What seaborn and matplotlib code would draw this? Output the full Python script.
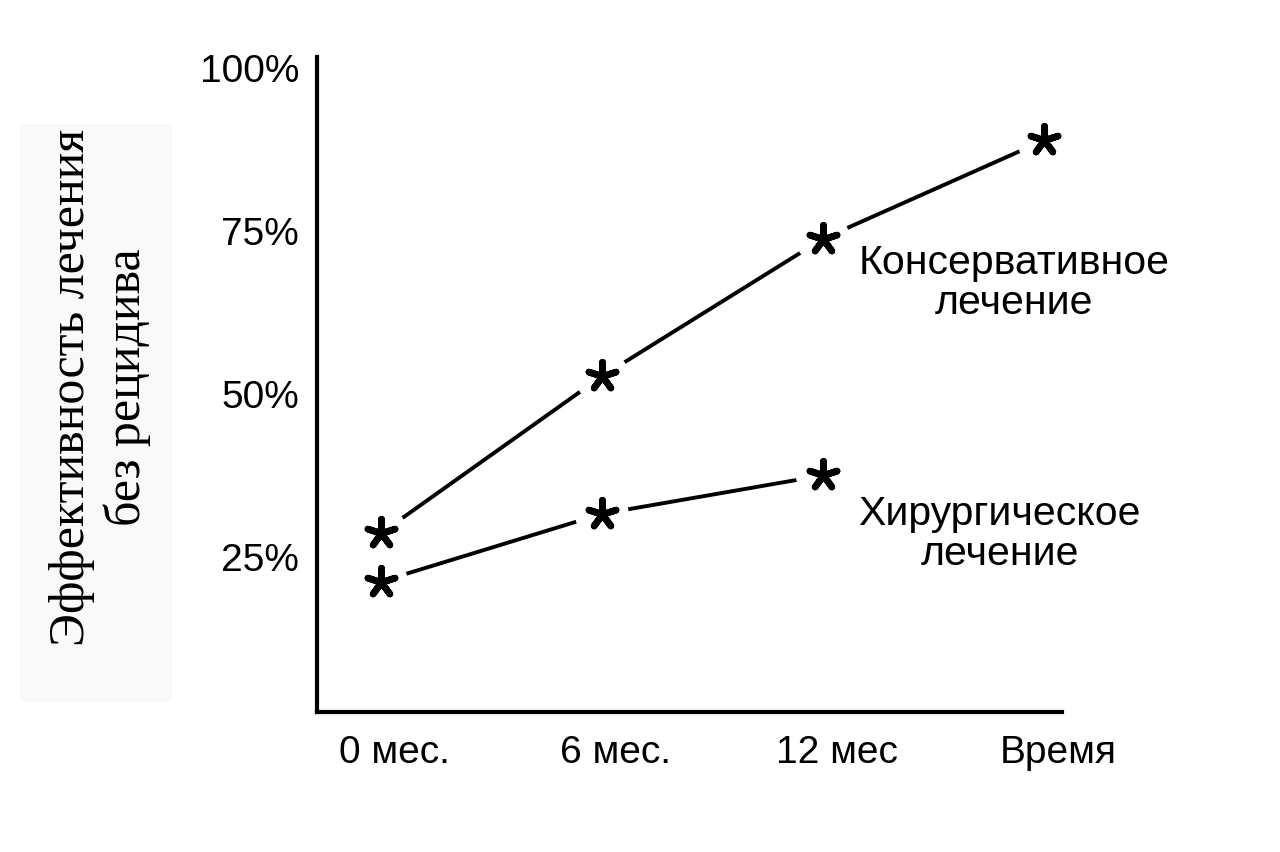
import matplotlib
matplotlib.use("Agg")
import matplotlib.pyplot as plt
import matplotlib.transforms as mtransforms
from matplotlib.patches import Rectangle
import seaborn as sns
import pandas as pd

# ---- data ----
cons_months = [0, 6, 12, 18]
cons_values = [28.4, 52.5, 73.6, 88.7]
surg_months = [0, 6, 12]
surg_values = [21.0, 31.4, 37.3]
x_ticks = [0, 6, 12, 18]
x_labels = ["0 мес.", "6 мес.", "12 мес", "Время"]
y_ticks = [25, 50, 75, 100]
y_labels = ["25%", "50%", "75%", "100%"]
cons_name = "Консервативное\nлечение"
surg_name = "Хирургическое\nлечение"
y_title = "Эффективность лечения\nбез рецидива"

df = pd.concat([
    pd.DataFrame({"month": cons_months, "value": cons_values, "group": "cons"}),
    pd.DataFrame({"month": surg_months, "value": surg_values, "group": "surg"}),
], ignore_index=True)

sns.set_theme(style="white")
plt.rcParams["font.family"] = ["Liberation Sans", "DejaVu Sans"]
plt.rcParams["text.color"] = "black"
plt.rcParams["xtick.color"] = "black"
plt.rcParams["ytick.color"] = "black"

fig = plt.figure(figsize=(12.8, 8.53), dpi=100)
ax = fig.add_axes([317 / 1280, 1 - 713 / 853, (1062 - 317) / 1280, (713 - 58) / 853])

sns.lineplot(data=df, x="month", y="value", hue="group",
             palette={"cons": "black", "surg": "black"},
             linewidth=2.8, legend=False, ax=ax, zorder=2)
# white gaps around the markers
sns.scatterplot(data=df, x="month", y="value", s=1500, color="white",
                edgecolor="none", linewidth=0, legend=False, ax=ax, zorder=3)
# asterisk markers
sns.scatterplot(data=df, x="month", y="value", marker=(5, 2, 0), s=420,
                color="black", edgecolor="black", linewidth=4.8,
                legend=False, ax=ax, zorder=4)

ax.set_xlim(-1.73, 18.49)
ax.set_ylim(1.0, 101.5)
ax.set_xticks(x_ticks)
ax.set_xticklabels(x_labels, fontsize=28)
ax.set_yticks(y_ticks)
ax.set_yticklabels(y_labels, fontsize=28)
ax.tick_params(axis="both", length=0)
ax.tick_params(axis="x", pad=16)
ax.tick_params(axis="y", pad=13)
offset = mtransforms.ScaledTranslation(14 / 100, 0, fig.dpi_scale_trans)
for lab in ax.get_xticklabels():
    lab.set_transform(lab.get_transform() + offset)

ax.set_xlabel("")
ax.set_ylabel("")
for side in ["top", "right"]:
    ax.spines[side].set_visible(False)
for side in ["left", "bottom"]:
    ax.spines[side].set_color("black")
    ax.spines[side].set_linewidth(3)

ax.text(17.2, 67.0, cons_name, fontsize=29.5, ha="center", va="center",
        linespacing=1.08, zorder=5)
ax.text(16.8, 28.5, surg_name, fontsize=29.5, ha="center", va="center",
        linespacing=1.08, zorder=5)

fig.patches.append(Rectangle((20 / 1280, 1 - 703 / 853), 152 / 1280, 578 / 853,
                             transform=fig.transFigure, facecolor="#f9f9f9",
                             edgecolor="none", zorder=0))
fig.text(100 / 1280, 1 - 387 / 853, y_title, rotation=90, ha="center",
         va="center", multialignment="center", fontsize=36,
         family=["Liberation Serif", "DejaVu Serif"], linespacing=1.22)

fig.savefig("out.png", dpi=100, facecolor="white")
